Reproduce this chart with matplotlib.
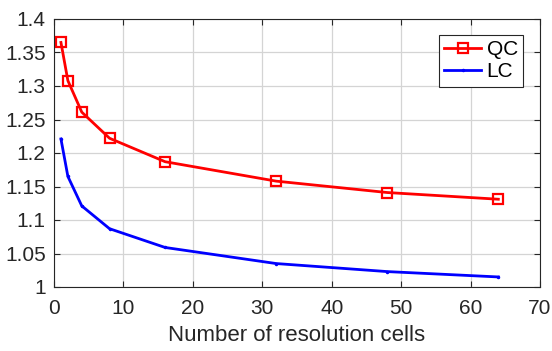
import matplotlib
matplotlib.use("Agg")
import matplotlib.pyplot as plt

plt.rcParams["font.family"] = ["Liberation Sans", "DejaVu Sans"]

cells = [1, 2, 4, 8, 16, 32, 48, 64]
qc = [1.365, 1.308, 1.261, 1.222, 1.187, 1.158, 1.141, 1.131]
lc = [1.221, 1.165, 1.121, 1.087, 1.059, 1.035, 1.023, 1.015]

fig = plt.figure(figsize=(5.52, 3.51), dpi=100)
ax = fig.add_axes([54 / 552, 1 - 287 / 351, 486 / 552, 268 / 351])

ax.plot(cells, qc, color="red", linewidth=2, marker="s", markersize=7,
        markerfacecolor="none", markeredgewidth=1.6, label="QC")
ax.plot(cells, lc, color="blue", linewidth=2, marker=".", markersize=3,
        label="LC")

ax.set_xlim(0, 70)
ax.set_ylim(1, 1.4)
ax.set_xticks(range(0, 71, 10))
ax.set_yticks([1, 1.05, 1.1, 1.15, 1.2, 1.25, 1.3, 1.35, 1.4])
ax.set_yticklabels(["1", "1.05", "1.1", "1.15", "1.2", "1.25", "1.3", "1.35", "1.4"])

dark = "#262626"
ax.grid(True, color="#d4d4d4", linewidth=0.9)
ax.set_axisbelow(True)
ax.tick_params(direction="in", top=True, right=True, length=4, width=0.8,
               colors=dark, labelsize=15)
ax.tick_params(axis="x", pad=9)
ax.tick_params(axis="y", pad=6)
for s in ax.spines.values():
    s.set_color(dark)
    s.set_linewidth(0.8)

ax.set_xlabel("Number of resolution cells", fontsize=16, color=dark, labelpad=5)

leg = ax.legend(loc="upper right", bbox_to_anchor=(0.965, 0.940), fontsize=15,
                fancybox=False, framealpha=1, edgecolor=dark, handlelength=1.8,
                borderpad=0.25, labelspacing=0.15, handletextpad=0.25,
                borderaxespad=0)
leg.get_frame().set_linewidth(0.8)

fig.savefig("out.png", dpi=100)
